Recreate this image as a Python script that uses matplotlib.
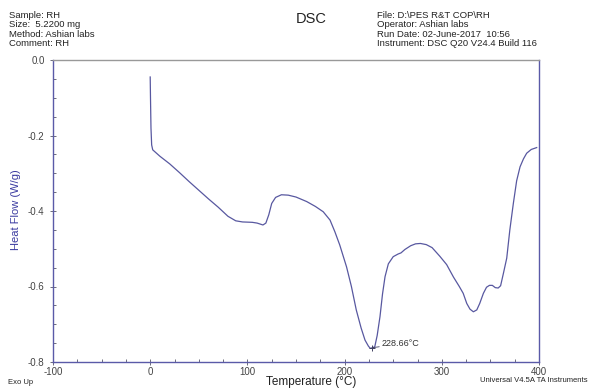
import matplotlib
matplotlib.use("Agg")
import matplotlib.pyplot as plt
from matplotlib.ticker import MultipleLocator

temperature = [0.0, 0.3, 0.8, 1.5, 2.6, 10, 20, 30, 40, 50, 60, 70, 80, 88, 95, 105, 110, 116,
               119, 122, 125, 129, 135, 142, 150, 161, 170, 178, 185, 190, 195, 202, 207, 212,
               217, 221, 224.5, 226.5, 228.66, 231, 233.5, 236.4, 239, 241.6, 245, 250, 255,
               258, 262, 268, 273, 278, 284, 290, 298, 305, 312, 318, 322, 325.7, 329, 332.5,
               336, 339, 342.8, 346, 349, 352, 355, 358, 360.5, 363.4, 366.8, 370, 373.6, 377,
               380.5, 384, 387.3, 392, 397.6]
heat_flow = [-0.045, -0.10, -0.18, -0.225, -0.238, -0.255, -0.275, -0.298, -0.322, -0.345,
             -0.368, -0.39, -0.414, -0.426, -0.429, -0.430, -0.432, -0.437, -0.432, -0.41,
             -0.38, -0.364, -0.357, -0.358, -0.363, -0.375, -0.388, -0.402, -0.424, -0.455,
             -0.49, -0.548, -0.60, -0.662, -0.71, -0.742, -0.758, -0.764, -0.762, -0.760,
             -0.73, -0.68, -0.62, -0.574, -0.54, -0.521, -0.514, -0.511, -0.502, -0.492,
             -0.487, -0.486, -0.489, -0.497, -0.52, -0.542, -0.575, -0.600, -0.618, -0.645,
             -0.66, -0.667, -0.662, -0.645, -0.618, -0.602, -0.597, -0.597, -0.603, -0.604,
             -0.598, -0.565, -0.525, -0.45, -0.38, -0.32, -0.283, -0.262, -0.247, -0.237,
             -0.232]
peak_temp = 228.66
peak_flow = -0.762
peak_label = "228.66°C"

left_header = "Sample: RH\nSize:  5.2200 mg\nMethod: Ashian labs\nComment: RH"
right_header = ("File: D:\\PES R&T COP\\RH\nOperator: Ashian labs\n"
                "Run Date: 02-June-2017  10:56\nInstrument: DSC Q20 V24.4 Build 116")

plt.rcParams['font.family'] = ['Liberation Sans', 'DejaVu Sans']
plt.rcParams['axes.unicode_minus'] = False
line_color = '#5858a0'
spine_color = '#5a5aa8'

fig = plt.figure(figsize=(5.92, 3.90), dpi=100)
ax = fig.add_axes([53/592, 1-362/390, (539-53)/592, (362-60)/390])

ax.plot(temperature, heat_flow, color=line_color, lw=0.9)
ax.plot([peak_temp], [peak_flow], marker='+', color='#404060', ms=5, mew=0.7)
ax.annotate(peak_label, xy=(peak_temp, peak_flow), xytext=(238.5, -0.752),
            fontsize=6.5, color='#333333', va='center', ha='left',
            arrowprops=dict(arrowstyle='-', color='#404060', lw=0.6, shrinkA=0, shrinkB=0))

ax.set_xlim(-100, 400)
ax.set_ylim(-0.8, 0.0)
ax.xaxis.set_major_locator(MultipleLocator(100))
ax.xaxis.set_minor_locator(MultipleLocator(25))
ax.yaxis.set_major_locator(MultipleLocator(0.2))
ax.yaxis.set_minor_locator(MultipleLocator(0.05))
ax.set_yticklabels([f"{v:.1f}" for v in ax.get_yticks()])

for s in ['left', 'bottom', 'right']:
    ax.spines[s].set_color(spine_color)
    ax.spines[s].set_linewidth(1.0)
ax.spines['top'].set_color('#999999')
ax.spines['top'].set_linewidth(1.0)

ax.tick_params(axis='both', which='major', direction='inout', length=5, width=0.6,
               colors='#555566', labelsize=7, labelcolor='#444444')
ax.tick_params(axis='both', which='minor', direction='in', length=2.5, width=0.6,
               colors='#555566')
ax.tick_params(axis='x', pad=1)

fig.text(16/592, 1-210/390, "Heat Flow (W/g)", rotation=90, color='#3a3aa0',
         fontsize=8, ha='center', va='center')
fig.text(311/592, 1-382/390, "Temperature (°C)", fontsize=8.5, ha='center', va='center',
         color='#222222')
fig.text(8/592, 1-382/390, "Exo Up", fontsize=5.5, ha='left', va='center', color='#222222')
fig.text(588/592, 1-381/390, "Universal V4.5A TA Instruments", fontsize=5.5, ha='right',
         va='center', color='#222222')
fig.text(311/592, 1-19/390, "DSC", fontsize=10.5, ha='center', va='center', color='#222222')
fig.text(9/592, 1-11/390, left_header, fontsize=6.8, ha='left', va='top', color='#222222',
         linespacing=1.05)
fig.text(377/592, 1-11/390, right_header, fontsize=6.8, ha='left', va='top', color='#222222',
         linespacing=1.05)

fig.savefig("out.png", dpi=100)
